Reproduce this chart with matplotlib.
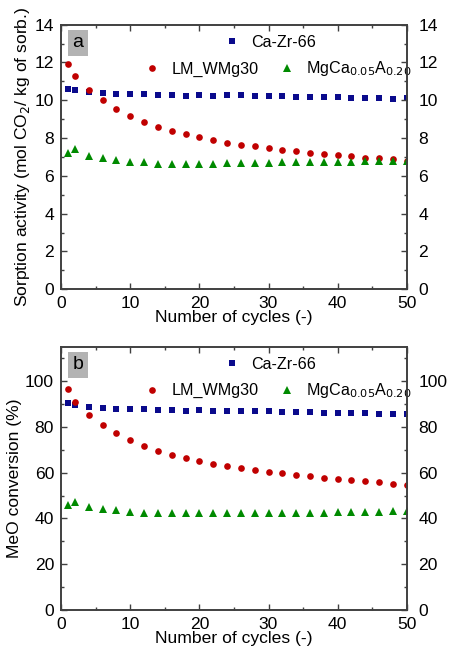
import numpy as np
import matplotlib.pyplot as plt
from matplotlib.ticker import MultipleLocator

plt.rcParams['font.family'] = ['Liberation Sans', 'DejaVu Sans']
plt.rcParams['font.size'] = 12.6

cycles = [1, 2, 4, 6, 8, 10, 12, 14, 16, 18, 20, 22, 24, 26, 28, 30,
          32, 34, 36, 38, 40, 42, 44, 46, 48, 50]

# panel a - sorption activity
caZr_a = [10.62, 10.55, 10.44, 10.37, 10.32, 10.32, 10.32, 10.28, 10.28, 10.23,
          10.27, 10.25, 10.27, 10.26, 10.25, 10.23, 10.21, 10.19, 10.18, 10.16,
          10.16, 10.14, 10.12, 10.11, 10.09, 10.11]
lm_a = [11.93, 11.27, 10.53, 10.02, 9.56, 9.19, 8.85, 8.60, 8.39, 8.21,
        8.04, 7.89, 7.75, 7.65, 7.56, 7.47, 7.38, 7.31, 7.22, 7.15,
        7.10, 7.03, 6.97, 6.92, 6.87, 6.80]
mgca_a = [7.20, 7.40, 7.06, 6.96, 6.83, 6.74, 6.71, 6.65, 6.65, 6.65,
          6.65, 6.65, 6.67, 6.69, 6.69, 6.69, 6.71, 6.71, 6.73, 6.74,
          6.74, 6.76, 6.78, 6.80, 6.81, 6.80]

# panel b - MeO conversion
caZr_b = [90.3, 89.4, 88.6, 88.1, 87.7, 87.7, 87.7, 87.4, 87.4, 87.0,
          87.2, 87.1, 87.1, 87.1, 87.0, 86.8, 86.7, 86.5, 86.5, 86.2,
          86.2, 86.1, 85.9, 85.8, 85.7, 85.8]
lm_b = [96.5, 90.9, 85.1, 80.9, 77.2, 74.2, 71.6, 69.6, 67.8, 66.4,
        64.9, 63.8, 62.8, 61.9, 61.0, 60.3, 59.7, 59.1, 58.4, 57.7,
        57.2, 56.7, 56.2, 55.8, 55.2, 54.6]
mgca_b = [45.8, 47.1, 44.8, 44.1, 43.5, 42.8, 42.5, 42.2, 42.2, 42.2,
          42.2, 42.2, 42.2, 42.3, 42.3, 42.5, 42.5, 42.6, 42.6, 42.6,
          42.8, 42.9, 43.0, 43.0, 43.2, 43.2]

blue = '#0a0a8c'
red = '#c00000'
green = '#008a00'
spine = '#404040'


def style_ticks(ax, ymajor, yminor):
    ax.xaxis.set_major_locator(MultipleLocator(10))
    ax.xaxis.set_minor_locator(MultipleLocator(5))
    ax.yaxis.set_major_locator(MultipleLocator(ymajor))
    ax.yaxis.set_minor_locator(MultipleLocator(yminor))
    ax.tick_params(which='both', direction='in', color=spine)
    ax.tick_params(which='major', length=4.5, width=1)
    ax.tick_params(which='minor', length=2.5, width=1)
    for s in ax.spines.values():
        s.set_color(spine)
        s.set_linewidth(1.2)


def draw_panel(ax, caZr, lm, mgca, ylim, ymajor, yminor, ylabel, tag):
    h1, = ax.plot(cycles, caZr, 's', color=blue, markersize=3.8, markeredgewidth=0,
                  label='Ca-Zr-66')
    h2, = ax.plot(cycles, lm, 'o', color=red, markersize=4.8, markeredgewidth=0,
                  label='LM_WMg30')
    h3, = ax.plot(cycles, mgca, '^', color=green, markersize=5.2, markeredgewidth=0,
                  label='MgCa$_{0.05}$A$_{0.20}$')
    ax.set_xlim(0, 50)
    ax.set_ylim(*ylim)
    style_ticks(ax, ymajor, yminor)
    ax.tick_params(which='both', top=True, right=True)
    ax.tick_params(axis='y', pad=5)
    ax.tick_params(axis='x', pad=5)

    # right-hand tick labels
    axr = ax.twinx()
    axr.set_ylim(*ylim)
    style_ticks(axr, ymajor, yminor)
    axr.tick_params(axis='y', pad=8.5)

    ax.set_xlabel('Number of cycles (-)', labelpad=-1)
    ax.set_ylabel(ylabel, labelpad=2)
    leg_kw = dict(frameon=False, handletextpad=0.45, handlelength=1.5,
                  borderaxespad=0, fontsize=11.6, loc='center left')
    leg1 = ax.legend(handles=[h1], bbox_to_anchor=(0.44, 0.933), **leg_kw)
    ax.add_artist(leg1)
    ax.legend(handles=[h2, h3], bbox_to_anchor=(0.21, 0.833), ncol=2,
              columnspacing=1.0, **leg_kw)
    ax.text(0.049, 0.932, tag, transform=ax.transAxes, ha='center', va='center',
            fontsize=14, bbox=dict(boxstyle='square,pad=0.24', facecolor='#b3b3b3',
                                   edgecolor='none'))


fig = plt.figure(figsize=(4.49, 6.5), dpi=100)
ax1 = fig.add_axes([0.136, 0.555, 0.77, 0.407])
ax2 = fig.add_axes([0.136, 0.0615, 0.77, 0.405])

draw_panel(ax1, caZr_a, lm_a, mgca_a, (0, 14), 2, 1,
           'Sorption activity (mol CO$_2$/ kg of sorb.)', 'a')
draw_panel(ax2, caZr_b, lm_b, mgca_b, (0, 115), 20, 10,
           'MeO conversion (%)', 'b')

fig.savefig('out.png', dpi=100)
